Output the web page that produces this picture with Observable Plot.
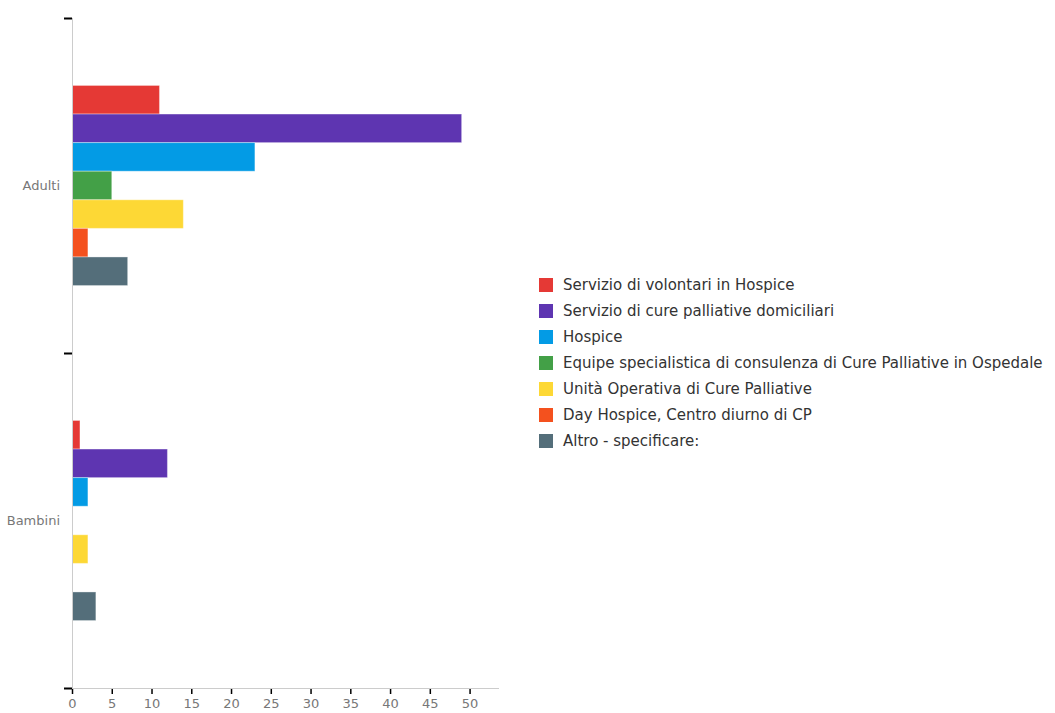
<!DOCTYPE html>
<html>
<head>
<meta charset="utf-8">
<script src="https://cdn.jsdelivr.net/npm/d3@7"></script>
<script src="https://cdn.jsdelivr.net/npm/@observablehq/plot@0.6"></script>
<style>
  html, body { margin: 0; padding: 0; background: #fff; }
  #wrap { position: relative; width: 1055px; height: 713px; font-family: "DejaVu Sans", sans-serif; }
  #chart { position: absolute; left: 0; top: 0; }
  #legend { position: absolute; left: 539px; top: 272px; }
  .item { display: flex; align-items: center; height: 26px; font-size: 15px; color: #333; white-space: nowrap; }
  .sw { width: 14px; height: 14px; margin-right: 10px; flex: none; }
</style>
</head>
<body>
<div id="wrap"><div id="chart"></div><div id="legend"></div></div>
<script>
const categories = ["Adulti", "Bambini"];
const series = [
  "Servizio di volontari in Hospice",
  "Servizio di cure palliative domiciliari",
  "Hospice",
  "Equipe specialistica di consulenza di Cure Palliative in Ospedale",
  "Unità Operativa di Cure Palliative",
  "Day Hospice, Centro diurno di CP",
  "Altro - specificare:"
];
const adultiValues = [11, 49, 23, 5, 14, 2, 7];
const bambiniValues = [1, 12, 2, 0, 2, 0, 3];
const colors = ["#E53935", "#5E35B1", "#039BE5", "#43A047", "#FDD835", "#F4511E", "#546E7A"];
const xTicks = [0, 5, 10, 15, 20, 25, 30, 35, 40, 45, 50];

const valuesByCategory = [adultiValues, bambiniValues];
const data = categories.flatMap((c, i) =>
  series.map((s, j) => ({category: c, series: s, value: valuesByCategory[i][j]}))
);

const axisFont = "'DejaVu Sans', sans-serif";

const plot = Plot.plot({
  width: 530,
  height: 713,
  marginLeft: 72,
  marginRight: 31,
  marginTop: 18,
  marginBottom: 25,
  style: {fontFamily: axisFont, fontSize: "13px", color: "#666", background: "#fff"},
  x: {domain: [0, 53.7], axis: null},
  y: {domain: series, paddingInner: 0, paddingOuter: 2.36, round: false, axis: null},
  fy: {domain: categories, padding: 0, round: false, label: null, axis: null},
  color: {domain: series, range: colors},
  marks: [
    Plot.barX(data, {fy: "category", y: "series", x: "value", fill: "series", stroke: "#fff", strokeOpacity: 0.35, strokeWidth: 1}),
    Plot.axisX({ticks: xTicks, anchor: "bottom", tickSize: 6, tickPadding: 4, stroke: "#000", strokeWidth: 1.5, fill: "#777", fontSize: 13, label: null, facetAnchor: "bottom"})
  ]
});
document.getElementById("chart").append(plot);

// axis lines, category ticks and labels drawn from the plot's own scales
const xs = plot.scale("x");
const fys = plot.scale("fy");
const svg = d3.select(plot);
const x0 = xs.range[0];
const fyScale = d3.scaleBand(fys.domain, fys.range).paddingInner(fys.paddingInner ?? 0).paddingOuter(fys.paddingOuter ?? 0);
const edges = [];
categories.forEach(c => { edges.push(fyScale(c)); edges.push(fyScale(c) + fyScale.bandwidth()); });
const uniq = Array.from(new Set(edges.map(v => Math.round(v))));
const yBottom = d3.max(uniq);
const ax = svg.append("g");
ax.append("line").attr("x1", x0 + 0.5).attr("x2", x0 + 0.5)
  .attr("y1", d3.min(uniq)).attr("y2", yBottom).attr("stroke", "#ccc");
ax.append("line").attr("x1", x0).attr("x2", xs.range[1])
  .attr("y1", yBottom + 0.5).attr("y2", yBottom + 0.5).attr("stroke", "#ccc");
uniq.forEach(y => {
  ax.append("line").attr("x1", x0 - 8).attr("x2", x0)
    .attr("y1", y + 0.5).attr("y2", y + 0.5).attr("stroke", "#000").attr("stroke-width", 2);
});
categories.forEach(c => {
  ax.append("text").attr("x", x0 - 12).attr("y", fyScale(c) + fyScale.bandwidth() / 2)
    .attr("text-anchor", "end").attr("dy", "0.32em")
    .attr("fill", "#777").attr("font-size", 13).attr("font-family", axisFont)
    .text(c);
});

const legend = d3.select("#legend");
series.forEach((s, i) => {
  const it = legend.append("div").attr("class", "item");
  it.append("div").attr("class", "sw").style("background", colors[i]);
  it.append("span").text(s);
});
</script>
</body>
</html>
